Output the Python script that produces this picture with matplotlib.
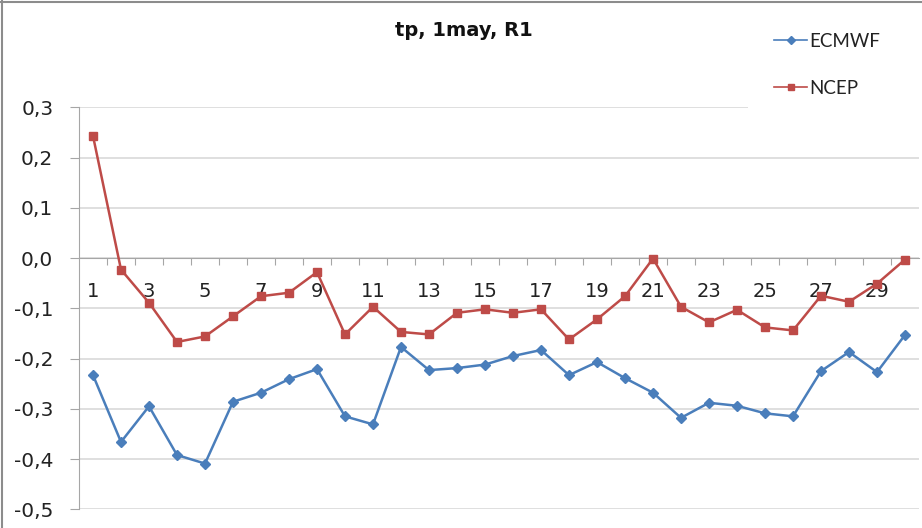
import matplotlib
matplotlib.use("Agg")
import matplotlib.pyplot as plt
from matplotlib.lines import Line2D
from matplotlib.patches import Rectangle
from matplotlib.ticker import FixedLocator, FuncFormatter

days = list(range(1, 31))
ecmwf = [-0.233, -0.366, -0.295, -0.392, -0.409, -0.286, -0.268, -0.241, -0.221, -0.315,
         -0.331, -0.177, -0.223, -0.219, -0.212, -0.195, -0.183, -0.233, -0.207, -0.239,
         -0.268, -0.318, -0.288, -0.294, -0.309, -0.315, -0.225, -0.187, -0.227, -0.153]
ncep = [0.243, -0.023, -0.089, -0.167, -0.156, -0.116, -0.076, -0.069, -0.028, -0.152,
        -0.097, -0.147, -0.152, -0.109, -0.102, -0.109, -0.102, -0.162, -0.122, -0.076,
        -0.001, -0.097, -0.128, -0.103, -0.138, -0.144, -0.075, -0.087, -0.051, -0.003]
title = "tp, 1may, R1"
yticks = [0.3, 0.2, 0.1, 0.0, -0.1, -0.2, -0.3, -0.4, -0.5]

W, H = 922, 528
fig = plt.figure(figsize=(W / 100, H / 100), dpi=100)
ax = fig.add_axes([79 / W, 1 - 509.3 / H, 840 / W, (509.3 - 107.3) / H])

blue = "#4a7ebb"
red = "#be4b48"
grid_c = "#d9d9d9"
axis_c = "#a6a6a6"

ax.plot(days, ecmwf, color=blue, lw=1.8, marker="D", ms=5, label="ECMWF", zorder=3)
ax.plot(days, ncep, color=red, lw=1.8, marker="s", ms=6, label="NCEP", zorder=3)

ax.set_xlim(0.5, 30.5)
ax.set_ylim(-0.5, 0.3)

for s in ["top", "right"]:
    ax.spines[s].set_visible(False)
ax.spines["left"].set_color(axis_c)
ax.spines["bottom"].set_position(("data", 0))
ax.spines["bottom"].set_color(axis_c)

ax.set_yticks(yticks)
ax.yaxis.set_major_formatter(FuncFormatter(lambda v, p: f"{v:.1f}".replace(".", ",").replace("-0,0", "0,0")))
ax.tick_params(axis="y", length=6.5, color=axis_c, pad=12, labelsize=14.5, labelcolor="#222222")
ax.yaxis.grid(True, color=grid_c, lw=1.2)
ax.set_axisbelow(True)

ax.xaxis.set_major_locator(FixedLocator([i + 0.5 for i in range(1, 30)]))
ax.xaxis.set_major_formatter(FuncFormatter(lambda v, p: ""))
ax.xaxis.set_minor_locator(FixedLocator(days[::2]))
ax.xaxis.set_minor_formatter(FuncFormatter(lambda v, p: f"{int(round(v))}"))
ax.tick_params(axis="x", which="major", length=5, color=axis_c, direction="out")
ax.tick_params(axis="x", which="minor", length=0, pad=17, labelsize=14, labelcolor="#222222")

fig.text(464 / W, 1 - 30 / H, title, ha="center", va="center", fontsize=14,
         fontweight="bold", family=["DejaVu Sans"], color="#111111")

# white legend area covering the top gridline on the right
fig.add_artist(Rectangle((748 / W, 1 - 112 / H), 1 - 748 / W, 90 / H,
                         transform=fig.transFigure, facecolor="white",
                         edgecolor="none", zorder=2))

leg = fig.legend(loc="upper left", bbox_to_anchor=(768 / W, 1 - 27 / H), frameon=False,
                 handlelength=1.8, handletextpad=0.1, labelspacing=1.6,
                 borderaxespad=0, borderpad=0.3,
                 prop={"family": ["Lato", "DejaVu Sans"], "size": 13.5})
leg.set_zorder(5)
for t in leg.get_texts():
    t.set_color("#222222")
for h in leg.legend_handles:
    h.set_linewidth(1.2)
    h.set_markersize(4)

fig.add_artist(Line2D([0, 1], [1 - 2 / H, 1 - 2 / H], color="#8c8c8c", lw=1.5, transform=fig.transFigure))
fig.add_artist(Line2D([2 / W, 2 / W], [0, 1], color="#8c8c8c", lw=1.5, transform=fig.transFigure))

fig.savefig("out.png", dpi=100)
